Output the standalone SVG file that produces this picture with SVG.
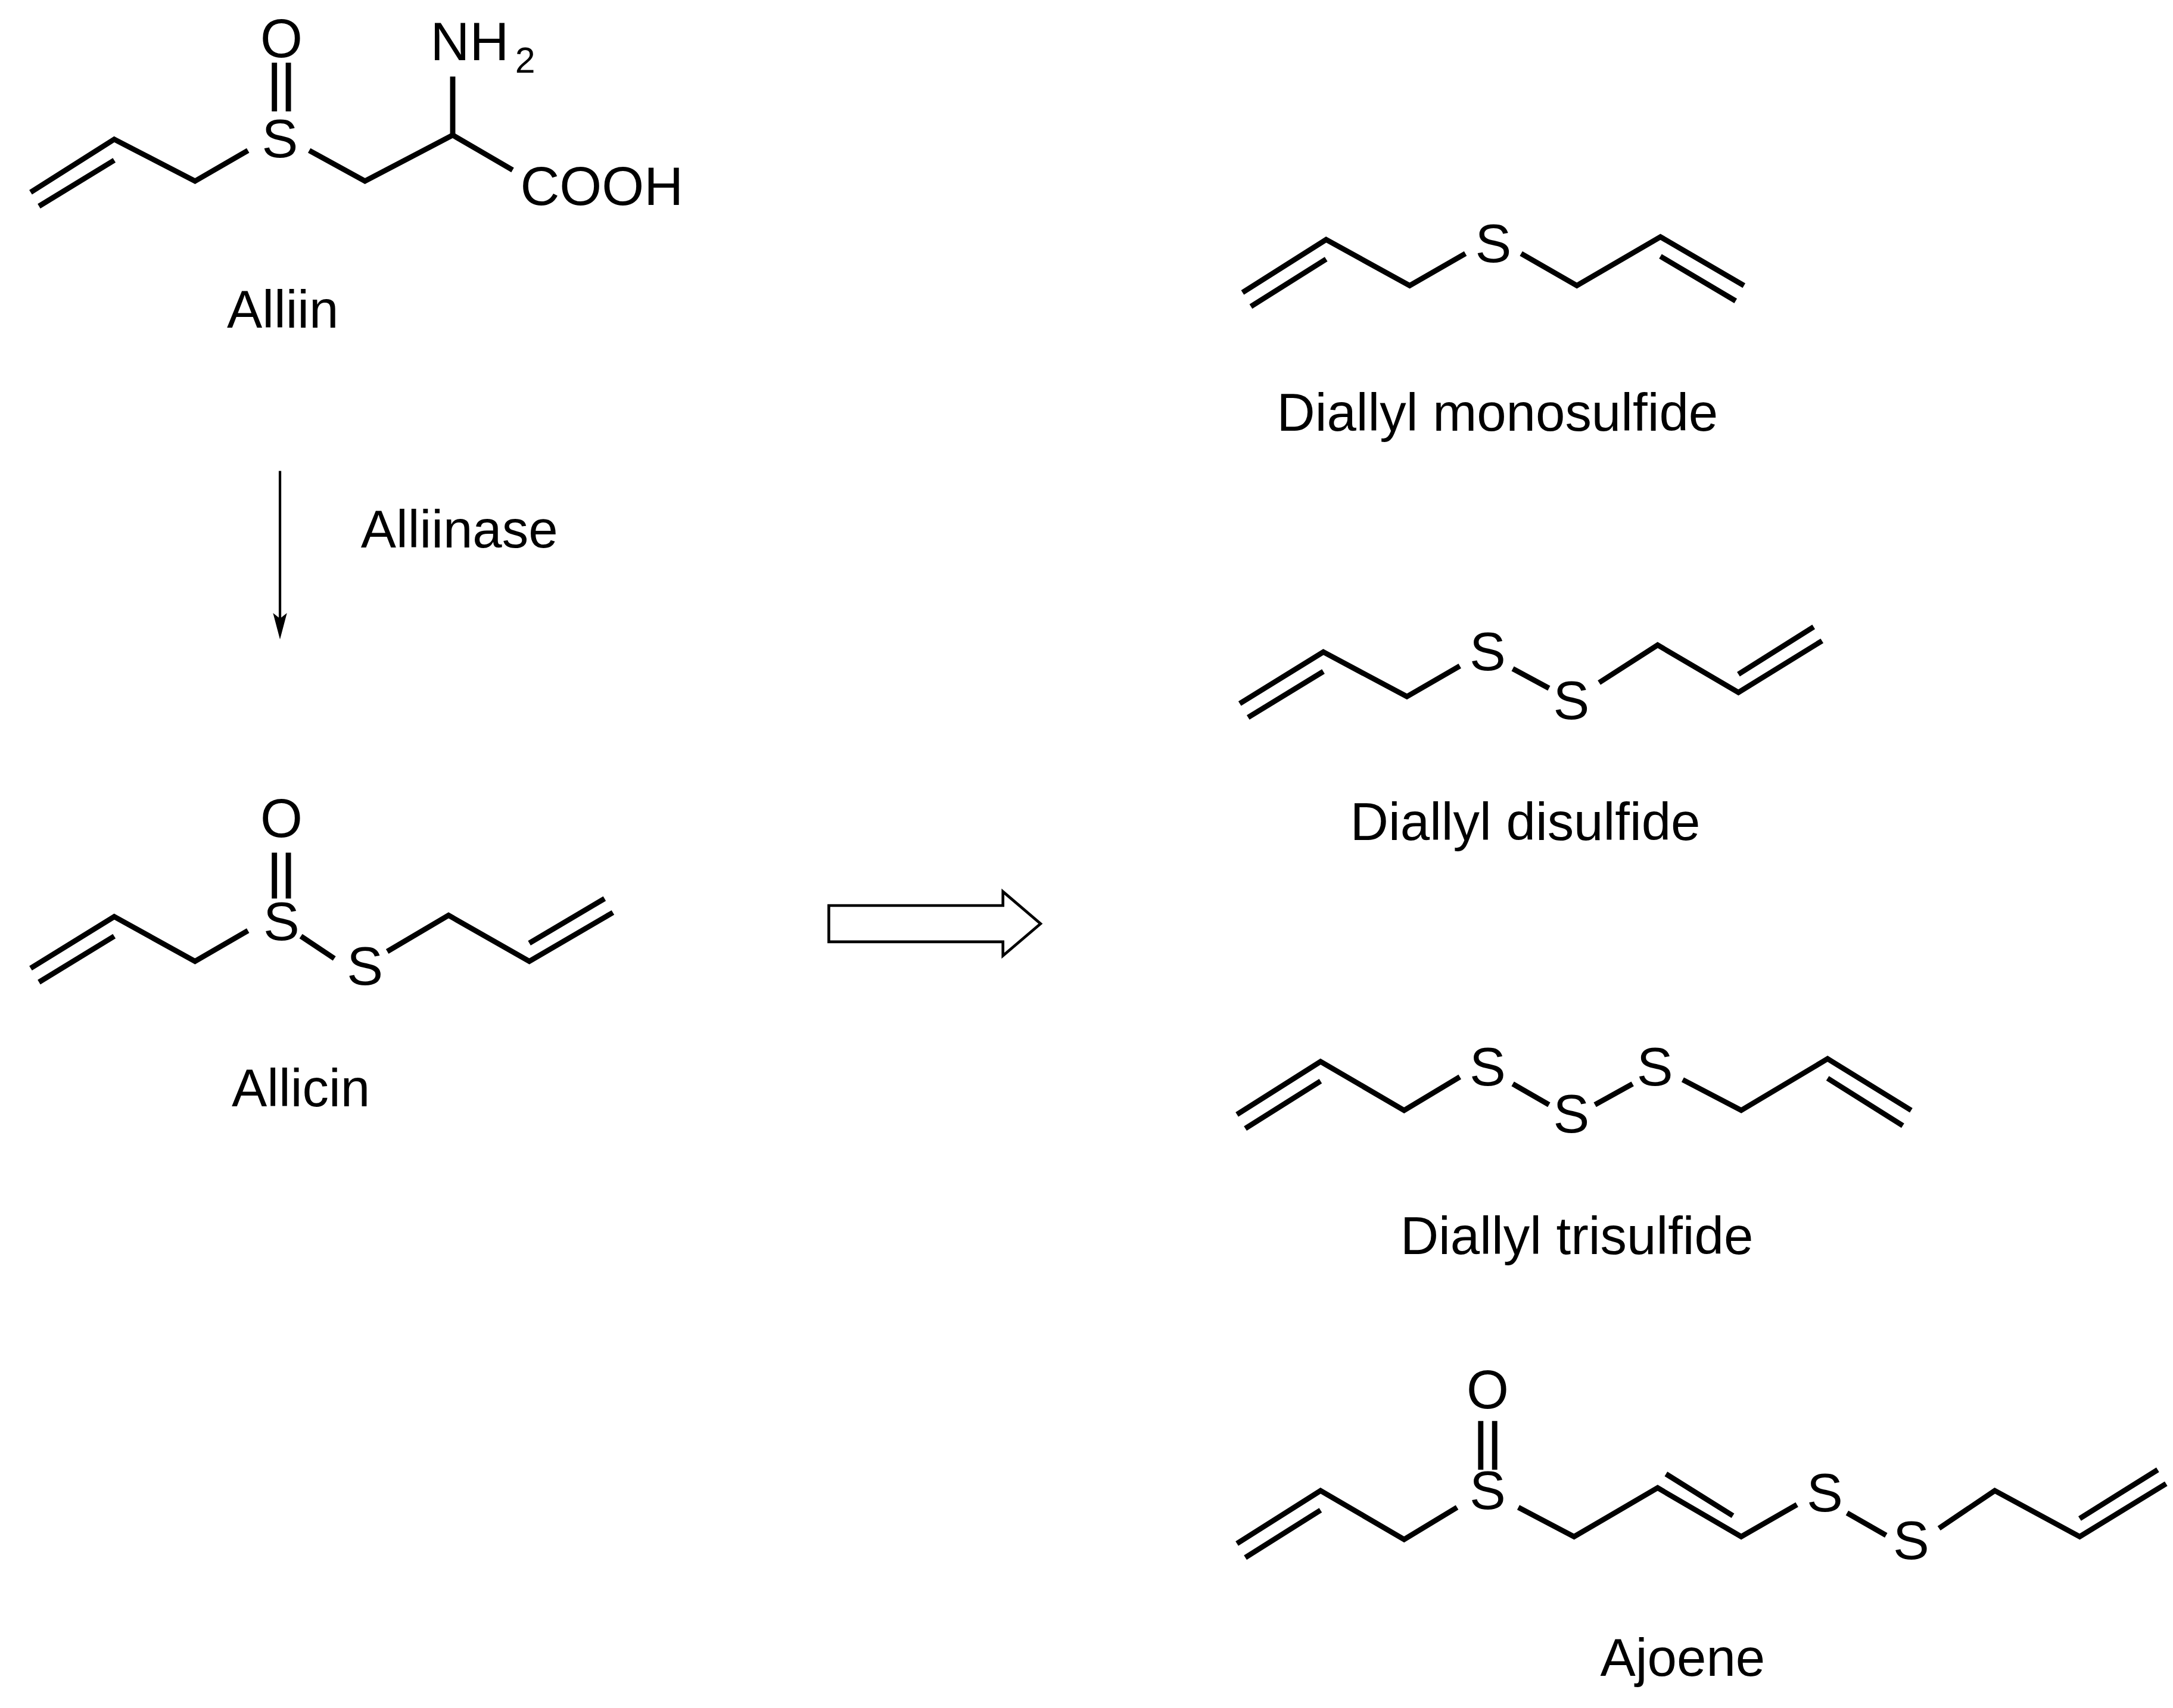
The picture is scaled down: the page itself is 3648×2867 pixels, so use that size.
<svg xmlns="http://www.w3.org/2000/svg" width="3648" height="2867" viewBox="0 0 3648 2867">
<style>
.b{stroke:#000;stroke-width:3.8;fill:none;stroke-linecap:butt;stroke-linejoin:miter}
.t{font-family:"Liberation Sans",Arial,sans-serif;font-size:38px;fill:#000;text-anchor:middle}
.a{font-family:"Liberation Sans",Arial,sans-serif;font-size:39px;fill:#000;text-anchor:middle}
</style>
<rect width="3648" height="2867" fill="#fff"/>
<g transform="scale(2.3385)">
<g id="alliin">
<path class="b" d="M22,138 L82,100 L140,130 L178,108"/>
<path class="b" d="M28,148 L82,115"/>
<path class="b" d="M222,108 L262,130 L325,97 L368,122"/>
<path class="b" d="M325,97 L325,55"/>
<path class="b" d="M197,45 V80 M207,45 V80"/>
<text class="a" x="201" y="113">S</text>
<text class="a" x="202" y="41">O</text>
<text class="a" x="309" y="43" style="text-anchor:start">NH</text><text class="a" x="377" y="52" style="font-size:26px">2</text>
<text class="a" x="432" y="147">COOH</text>
<text class="t" x="203" y="235">Alliin</text>
</g>
<g id="connectors">
<line class="b" style="stroke-width:1.8" x1="201" y1="338" x2="201" y2="448"/>
<path d="M196,440 L201,459 L206,440 L201,444 Z" fill="#000"/>
<path class="b" style="stroke-width:2" d="M595,650 H720 V640 L747,663 L720,686 V676 H595 Z"/>
<text class="t" x="259" y="393" style="text-anchor:start">Alliinase</text>
</g>
<g id="allicin">
<path class="b" d="M22,695 L82,658 L140,690 L178,668"/>
<path class="b" d="M28,705 L82,672"/>
<path class="b" d="M216,672 L240,688"/>
<path class="b" d="M278,683 L322,657 L380,690 L440,655"/>
<path class="b" d="M380,677 L434,645"/>
<path class="b" d="M197,612 V645 M207,612 V645"/>
<text class="a" x="202" y="675">S</text>
<text class="a" x="262" y="707">S</text>
<text class="a" x="202" y="601">O</text>
<text class="t" x="216" y="794">Allicin</text>
</g>
<g id="monosulfide">
<path class="b" d="M892,210 L952,172 L1012,205 L1052,182"/>
<path class="b" d="M898,220 L952,186"/>
<path class="b" d="M1092,182 L1132,205 L1192,170 L1252,205"/>
<path class="b" d="M1192,184 L1246,216"/>
<text class="a" x="1072" y="188">S</text>
<text class="t" x="1075" y="309">Diallyl monosulfide</text>
</g>
<g id="disulfide">
<path class="b" d="M890,505 L950,468 L1010,500 L1048,478"/>
<path class="b" d="M896,515 L950,482"/>
<path class="b" d="M1086,480 L1112,494"/>
<path class="b" d="M1148,490 L1190,463 L1248,497 L1308,460"/>
<path class="b" d="M1248,484 L1302,450"/>
<text class="a" x="1068" y="481">S</text>
<text class="a" x="1128" y="516">S</text>
<text class="t" x="1095" y="603">Diallyl disulfide</text>
</g>
<g id="trisulfide">
<path class="b" d="M888,800 L948,762 L1008,797 L1048,773"/>
<path class="b" d="M894,810 L948,776"/>
<path class="b" d="M1086,778 L1112,793"/>
<path class="b" d="M1145,793 L1172,778"/>
<path class="b" d="M1208,775 L1250,797 L1312,760 L1372,797"/>
<path class="b" d="M1312,774 L1366,808"/>
<text class="a" x="1068" y="779">S</text>
<text class="a" x="1128" y="813">S</text>
<text class="a" x="1188" y="779">S</text>
<text class="t" x="1132" y="900">Diallyl trisulfide</text>
</g>
<g id="ajoene">
<path class="b" d="M888,1108 L948,1070 L1008,1105 L1046,1082"/>
<path class="b" d="M894,1118 L948,1084"/>
<path class="b" d="M1090,1082 L1130,1103 L1190,1068 L1250,1103 L1290,1080"/>
<path class="b" d="M1196,1058 L1244,1088"/>
<path class="b" d="M1326,1086 L1354,1102"/>
<path class="b" d="M1392,1097 L1432,1070 L1493,1103 L1555,1065"/>
<path class="b" d="M1493,1090 L1549,1055"/>
<path class="b" d="M1063,1020 V1055 M1073,1020 V1055"/>
<text class="a" x="1068" y="1011">O</text>
<text class="a" x="1068" y="1083">S</text>
<text class="a" x="1310" y="1085">S</text>
<text class="a" x="1372" y="1119">S</text>
<text class="t" x="1208" y="1203">Ajoene</text>
</g>
</g>
</svg>
